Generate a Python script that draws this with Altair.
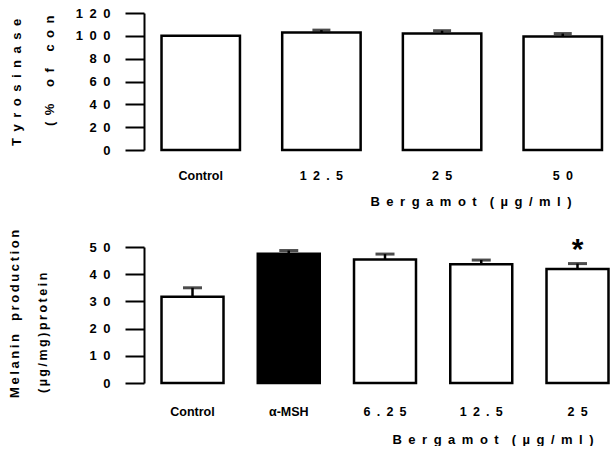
import altair as alt
import pandas as pd

# Tyrosinase activity, % of control (mean and SEM)
tyr_groups = ["Control", "12.5", "25", "50"]
tyr_mean = [100, 103, 102, 99.5]
tyr_sem = [0, 2, 2.5, 2.5]

# Melanin production, µg/mg protein (mean and SEM)
mel_groups = ["Control", "α-MSH", "6.25", "12.5", "25"]
mel_mean = [31.7, 47.5, 45.4, 43.7, 41.9]
mel_sem = [3.3, 1.2, 2.0, 1.5, 2.0]
mel_fill = ["white", "black", "white", "white", "white"]
mel_sig = ["", "", "", "", "*"]

tyr_ticks = [0, 20, 40, 60, 80, 100, 120]
mel_ticks = [0, 10, 20, 30, 40, 50]

FONT = "Liberation Sans"
EN = "\u2002"
THIN = "\u2009"
ZWSP = "\u200b"


def spaced(text, sep):
    return sep.join(text)


# numbers are typeset with a space between every character
NUM_EXPR = f"join(split(datum.label, ''), '{EN}')"
CAT_EXPR = f"isNaN(toNumber(datum.label)) ? datum.label : {NUM_EXPR}"

tyr = pd.DataFrame({"group": tyr_groups, "mean": tyr_mean, "sem": tyr_sem})
tyr["upper"] = tyr["mean"] + tyr["sem"]
mel = pd.DataFrame({"group": mel_groups, "mean": mel_mean, "sem": mel_sem,
                    "fill": mel_fill, "sig": mel_sig})
mel["upper"] = mel["mean"] + mel["sem"]


def y_title(text, x, y, size, **kw):
    return alt.Chart(pd.DataFrame({"label": [text]})).mark_text(
        angle=270, align="left", baseline="middle", font=FONT,
        fontWeight="bold", fontSize=size, color="black", **kw
    ).encode(x=alt.value(x), y=alt.value(y), text="label:N")


def panel(df, groups, ticks, ymax, inner, outer, align, label_pad,
          title, title_x, title_y, cap, fill_field, star=False):
    x_scale = alt.Scale(paddingInner=inner, paddingOuter=outer, align=align)
    x_axis = alt.Axis(
        title=title, labelExpr=CAT_EXPR, domain=False, ticks=False,
        labelAngle=0, labelPadding=label_pad, titleX=title_x,
        titleY=title_y, titleBaseline="middle", titleAlign="center",
        labelOverlap=False, labelFontSize=12.5,
    )
    y_scale = alt.Scale(domain=[0, ymax], nice=False, zero=True)
    y_axis = alt.Axis(
        title=None, values=ticks, grid=False, tickSize=19, tickWidth=2,
        domainWidth=2, labelPadding=15, labelExpr=NUM_EXPR,
        labelOverlap=False, labelFontSize=13,
    )

    def X():
        return alt.X("group:N", sort=groups, scale=x_scale, axis=x_axis)

    def Y(field):
        return alt.Y(f"{field}:Q", scale=y_scale, axis=y_axis)

    base = alt.Chart(df)
    bar_kw = dict(stroke="black", strokeWidth=2.5)
    if fill_field:
        bars = base.mark_bar(**bar_kw).encode(
            x=X(), y=Y("mean"), color=alt.Color("fill:N", scale=None))
    else:
        bars = base.mark_bar(fill="white", **bar_kw).encode(x=X(), y=Y("mean"))
    err = base.transform_filter("datum.sem > 0")
    stem = err.mark_rule(color="black", strokeWidth=2.5).encode(
        x=X(), y=Y("mean"), y2="upper:Q")
    tick = err.mark_tick(color="black", thickness=3, size=cap).encode(
        x=X(), y=Y("upper"))
    layers = [bars, stem, tick]
    if star:
        layers.append(base.mark_text(
            font=FONT, fontWeight="bold", fontSize=30, baseline="bottom",
            dy=1, color="black",
        ).encode(x=X(), y=Y("upper"), text="sig:N"))
    return layers


W = 467
XTITLE = spaced("Bergamot", EN) + EN + EN + spaced("(µg/ml)", EN)

top = alt.layer(
    *panel(tyr, tyr_groups, tyr_ticks, 120, 0.35, 0.11, 0.66,
           19, XTITLE, 326.5, 51, 18, False),
    y_title(spaced("Tyrosinase activity", EN), -127.5, 133, 13,
            limit=133, ellipsis=ZWSP),
    y_title(spaced("(% of control)", EN), -94.5, 113, 13,
            limit=113, ellipsis=ZWSP),
).properties(width=W, height=137)

bottom = alt.layer(
    *panel(mel, mel_groups, mel_ticks, 50, 0.356, 0.104, 0.875,
           22, XTITLE, 348.5, 56, 19, True, star=True),
    y_title(spaced("Melanin", THIN) + EN + EN + spaced("production", THIN),
            -129.5, 151, 13),
    y_title(spaced("(µg/mg)protein", THIN), -101.5, 146, 12.5),
).properties(width=W, height=136)

chart = alt.vconcat(top, bottom, spacing=97, bounds="flush").properties(
    padding={"left": 8, "top": 7, "right": 0, "bottom": 0},
    background="white",
).configure_view(stroke=None).configure_axis(
    labelFont=FONT, titleFont=FONT, labelFontWeight="bold",
    titleFontWeight="bold", labelFontSize=12, titleFontSize=13,
    labelColor="black", titleColor="black", domainColor="black",
    tickColor="black",
)

chart.save("out.html", embed_options={"renderer": "svg", "actions": False})
